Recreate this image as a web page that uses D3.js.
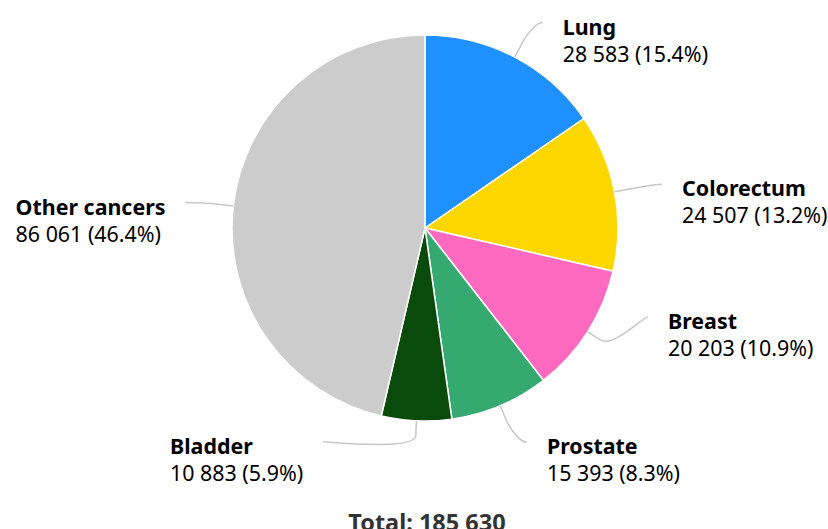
<!DOCTYPE html>
<html>
<head>
<meta charset="utf-8">
<script src="https://cdn.jsdelivr.net/npm/d3@7/dist/d3.min.js"></script>
<style>
	body { margin: 0; background: #fff; }
	svg { display: block; font-family: "Noto Sans", "Open Sans", sans-serif; }
	.lbl-name { font-weight: 700; }
</style>
</head>
<body>
<svg id="chart" width="828" height="529"></svg>
<script>
// data
var categories = ["Lung", "Colorectum", "Breast", "Prostate", "Bladder", "Other cancers"];
var cases = [28583, 24507, 20203, 15393, 10883, 86061];
var colors = ["#1e90ff", "#ffd700", "#ff69bf", "#35a970", "#0a4a0a", "#cccccc"];

// label placement nudges (px) from the natural spot on the label ring
var labelNudge = [[14, -8], [18, -2], [35, -31], [15, 9], [-92, -9], [-18, 0]];

var W = 828, H = 529,
	cx = 425, cy = 228,
	radius = 193,
	labelDistance = 30,
	breakOffset = 15,
	fontSize = 21.4,
	lineGap = 27;

var svg = d3.select("#chart");

var total = d3.sum(cases);
var fmt = function (v) { return d3.format(",")(v).replace(/,/g, " "); };

var slices = categories.map(function (c, i) {
	return { name: c, value: cases[i], color: colors[i], i: i };
});

var pie = d3.pie().sort(null).value(function (d) { return d.value; });
var arcs = pie(slices);
var arc = d3.arc().innerRadius(0).outerRadius(radius);

var g = svg.append("g").attr("transform", "translate(" + cx + "," + cy + ")");

// slices
g.selectAll("path.slice")
	.data(arcs)
	.enter().append("path")
	.attr("class", "slice")
	.attr("d", arc)
	.attr("fill", function (d) { return d.data.color; })
	.attr("stroke", "#fff")
	.attr("stroke-width", 1.5)
	.attr("stroke-linejoin", "round");

function polar(a, r) {
	return [Math.sin(a) * r, -Math.cos(a) * r];
}

// labels and connectors
arcs.forEach(function (d) {
	var mid = (d.startAngle + d.endAngle) / 2;
	var right = Math.sin(mid) >= 0;
	var nat = polar(mid, radius + labelDistance);
	var nud = labelNudge[d.data.i];
	var ax = nat[0] + nud[0], ay = nat[1] + nud[1];

	var touch = polar(mid, radius);
	var brk = polar(mid, radius + breakOffset);

	var path = d3.path();
	path.moveTo(ax, ay);
	path.bezierCurveTo(ax + (right ? -5 : 5), ay,
		2 * brk[0] - touch[0], 2 * brk[1] - touch[1],
		brk[0], brk[1]);
	path.lineTo(touch[0], touch[1]);

	g.append("path")
		.attr("d", path.toString())
		.attr("fill", "none")
		.attr("stroke", "#c8c8c8")
		.attr("stroke-width", 1.5);

	var pct = (d.data.value / total * 100).toFixed(1);
	var t = g.append("text")
		.attr("font-size", fontSize)
		.attr("fill", "#000");
	t.append("tspan")
		.attr("class", "lbl-name")
		.attr("x", 0)
		.attr("y", ay + 12)
		.text(d.data.name);
	t.append("tspan")
		.attr("x", 0)
		.attr("y", ay + 12 + lineGap)
		.text(fmt(d.data.value) + " (" + pct + "%)");

	var w = t.node().getBBox().width;
	var tx = right ? ax + 20 : ax - 20 - w;
	t.selectAll("tspan").attr("x", tx);
});

// total
svg.append("text")
	.attr("x", cx + 2)
	.attr("y", 531)
	.attr("text-anchor", "middle")
	.attr("font-size", 23.5)
	.attr("font-weight", 700)
	.attr("fill", "#333")
	.text("Total: " + fmt(total));
</script>
</body>
</html>
